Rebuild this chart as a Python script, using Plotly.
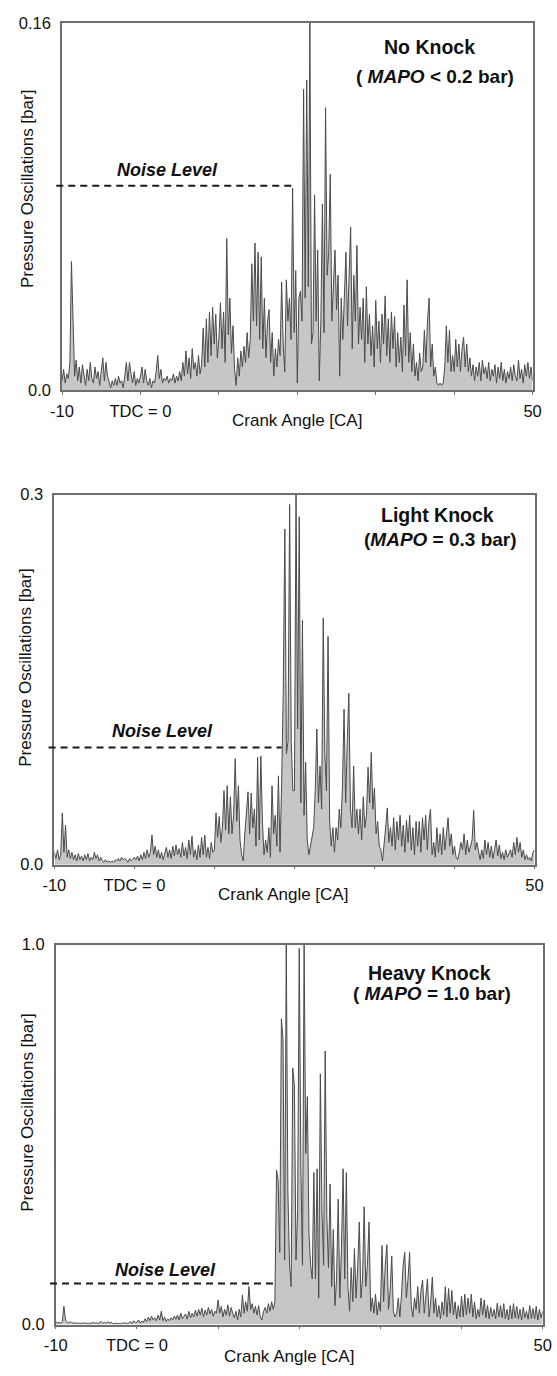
import plotly.graph_objects as go

W, H = 557, 1376

# Crank angle grid (degrees CA), sampled every 0.2 deg from -10 to 50
CA_MIN, CA_MAX, CA_STEP = -10, 50, 0.2

# Band-pass filtered pressure oscillation amplitude [bar], one row per degree CA
no_knock = [
    0.004, 0.009, 0.003, 0.007, 0.005,   # -10
    0.012, 0.056, 0.031, 0.006, 0.013,   # -9
    0.004, 0.010, 0.003, 0.011, 0.006,   # -8
    0.002, 0.009, 0.004, 0.012, 0.005,   # -7
    0.003, 0.010, 0.005, 0.008, 0.002,   # -6
    0.007, 0.014, 0.004, 0.012, 0.006,   # -5
    0.003, 0.001, 0.004, 0.002, 0.005,   # -4
    0.002, 0.006, 0.003, 0.004, 0.001,   # -3
    0.006, 0.012, 0.004, 0.012, 0.007,   # -2
    0.003, 0.008, 0.002, 0.005, 0.003,   # -1
    0.006, 0.010, 0.003, 0.009, 0.004,   # 0
    0.002, 0.005, 0.001, 0.004, 0.003,   # 1
    0.008, 0.015, 0.005, 0.009, 0.003,   # 2
    0.005, 0.004, 0.006, 0.003, 0.005,   # 3
    0.004, 0.007, 0.003, 0.006, 0.004,   # 4
    0.008, 0.004, 0.012, 0.006, 0.017,   # 5
    0.007, 0.014, 0.005, 0.018, 0.009,   # 6
    0.012, 0.006, 0.015, 0.007, 0.011,   # 7
    0.027, 0.010, 0.031, 0.012, 0.034,   # 8
    0.015, 0.036, 0.020, 0.033, 0.014,   # 9
    0.022, 0.038, 0.018, 0.034, 0.012,   # 10
    0.066, 0.024, 0.040, 0.016, 0.028,   # 11
    0.009, 0.002, 0.014, 0.006, 0.017,   # 12
    0.010, 0.019, 0.012, 0.025, 0.014,   # 13
    0.022, 0.055, 0.030, 0.064, 0.028,   # 14
    0.060, 0.022, 0.058, 0.018, 0.040,   # 15
    0.014, 0.030, 0.035, 0.012, 0.025,   # 16
    0.006, 0.018, 0.010, 0.022, 0.015,   # 17
    0.047, 0.020, 0.008, 0.048, 0.030,   # 18
    0.040, 0.022, 0.088, 0.025, 0.052,   # 19
    0.003, 0.040, 0.043, 0.030, 0.131,   # 20
    0.040, 0.135, 0.045, 0.160, 0.020,   # 21
    0.025, 0.085, 0.030, 0.061, 0.004,   # 22
    0.030, 0.081, 0.025, 0.123, 0.050,   # 23
    0.060, 0.094, 0.030, 0.045, 0.061,   # 24
    0.035, 0.050, 0.006, 0.040, 0.022,   # 25
    0.045, 0.060, 0.028, 0.055, 0.071,   # 26
    0.018, 0.050, 0.030, 0.063, 0.020,   # 27
    0.036, 0.022, 0.040, 0.012, 0.045,   # 28
    0.020, 0.033, 0.015, 0.028, 0.010,   # 29
    0.039, 0.018, 0.030, 0.012, 0.033,   # 30
    0.020, 0.041, 0.015, 0.031, 0.012,   # 31
    0.034, 0.018, 0.032, 0.010, 0.025,   # 32
    0.012, 0.023, 0.008, 0.037, 0.015,   # 33
    0.048, 0.012, 0.025, 0.008, 0.020,   # 34
    0.006, 0.012, 0.004, 0.016, 0.008,   # 35
    0.010, 0.026, 0.012, 0.030, 0.040,   # 36
    0.010, 0.020, 0.006, 0.010, 0.003,   # 37
    0.002, 0.003, 0.002, 0.003, 0.010,   # 38
    0.028, 0.012, 0.026, 0.008, 0.015,   # 39
    0.008, 0.022, 0.010, 0.020, 0.008,   # 40
    0.018, 0.023, 0.010, 0.020, 0.008,   # 41
    0.014, 0.006, 0.011, 0.004, 0.010,   # 42
    0.006, 0.012, 0.004, 0.013, 0.007,   # 43
    0.010, 0.005, 0.012, 0.004, 0.009,   # 44
    0.006, 0.011, 0.003, 0.010, 0.005,   # 45
    0.012, 0.004, 0.009, 0.003, 0.008,   # 46
    0.005, 0.010, 0.004, 0.011, 0.006,   # 47
    0.004, 0.013, 0.005, 0.009, 0.003,   # 48
    0.011, 0.006, 0.012, 0.005, 0.010,   # 49
    0.004,                               # 50
]

light_knock = [
    0.010, 0.005, 0.012, 0.004, 0.008,   # -10
    0.042, 0.010, 0.032, 0.006, 0.012,   # -9
    0.005, 0.010, 0.004, 0.008, 0.003,   # -8
    0.009, 0.004, 0.007, 0.003, 0.008,   # -7
    0.004, 0.009, 0.003, 0.006, 0.004,   # -6
    0.010, 0.005, 0.008, 0.003, 0.006,   # -5
    0.003, 0.002, 0.004, 0.002, 0.003,   # -4
    0.002, 0.003, 0.002, 0.004, 0.003,   # -3
    0.005, 0.003, 0.006, 0.004, 0.005,   # -2
    0.004, 0.002, 0.005, 0.003, 0.004,   # -1
    0.006, 0.004, 0.007, 0.003, 0.008,   # 0
    0.004, 0.010, 0.005, 0.012, 0.006,   # 1
    0.010, 0.024, 0.008, 0.015, 0.006,   # 2
    0.012, 0.005, 0.010, 0.004, 0.009,   # 3
    0.014, 0.006, 0.012, 0.005, 0.015,   # 4
    0.007, 0.016, 0.008, 0.013, 0.006,   # 5
    0.018, 0.007, 0.014, 0.005, 0.020,   # 6
    0.008, 0.023, 0.006, 0.012, 0.004,   # 7
    0.016, 0.006, 0.022, 0.008, 0.024,   # 8
    0.006, 0.014, 0.005, 0.018, 0.010,   # 9
    0.012, 0.042, 0.022, 0.039, 0.018,   # 10
    0.030, 0.060, 0.028, 0.064, 0.025,   # 11
    0.055, 0.025, 0.040, 0.086, 0.035,   # 12
    0.064, 0.020, 0.008, 0.003, 0.025,   # 13
    0.045, 0.059, 0.025, 0.058, 0.030,   # 14
    0.045, 0.015, 0.087, 0.020, 0.088,   # 15
    0.035, 0.008, 0.020, 0.010, 0.030,   # 16
    0.006, 0.064, 0.025, 0.040, 0.015,   # 17
    0.072, 0.010, 0.065, 0.139, 0.272,   # 18
    0.090, 0.100, 0.292, 0.100, 0.060,   # 19
    0.060, 0.300, 0.110, 0.282, 0.050,   # 20
    0.198, 0.040, 0.083, 0.020, 0.008,   # 21
    0.015, 0.022, 0.030, 0.060, 0.110,   # 22
    0.050, 0.080, 0.045, 0.200, 0.090,   # 23
    0.060, 0.185, 0.035, 0.015, 0.030,   # 24
    0.010, 0.030, 0.020, 0.045, 0.030,   # 25
    0.063, 0.126, 0.050, 0.100, 0.139,   # 26
    0.045, 0.030, 0.080, 0.030, 0.045,   # 27
    0.025, 0.045, 0.020, 0.055, 0.030,   # 28
    0.040, 0.079, 0.050, 0.091, 0.045,   # 29
    0.062, 0.025, 0.035, 0.015, 0.012,   # 30
    0.003, 0.020, 0.030, 0.046, 0.018,   # 31
    0.030, 0.015, 0.038, 0.012, 0.035,   # 32
    0.020, 0.040, 0.015, 0.032, 0.010,   # 33
    0.036, 0.018, 0.040, 0.012, 0.030,   # 34
    0.008, 0.035, 0.015, 0.035, 0.010,   # 35
    0.038, 0.020, 0.040, 0.012, 0.035,   # 36
    0.045, 0.008, 0.018, 0.006, 0.030,   # 37
    0.010, 0.025, 0.008, 0.030, 0.012,   # 38
    0.028, 0.038, 0.015, 0.025, 0.008,   # 39
    0.015, 0.006, 0.004, 0.010, 0.018,   # 40
    0.012, 0.025, 0.008, 0.020, 0.010,   # 41
    0.015, 0.020, 0.044, 0.012, 0.018,   # 42
    0.010, 0.004, 0.012, 0.005, 0.020,   # 43
    0.008, 0.018, 0.006, 0.015, 0.005,   # 44
    0.012, 0.020, 0.007, 0.016, 0.005,   # 45
    0.010, 0.004, 0.012, 0.006, 0.009,   # 46
    0.012, 0.006, 0.018, 0.008, 0.022,   # 47
    0.010, 0.018, 0.006, 0.012, 0.004,   # 48
    0.008, 0.004, 0.006, 0.003, 0.010,   # 49
    0.012,                               # 50
]

heavy_knock = [
    0.008, 0.004, 0.006, 0.003, 0.007,   # -10
    0.048, 0.012, 0.006, 0.004, 0.008,   # -9
    0.003, 0.006, 0.002, 0.005, 0.003,   # -8
    0.004, 0.002, 0.005, 0.003, 0.004,   # -7
    0.002, 0.004, 0.003, 0.006, 0.003,   # -6
    0.005, 0.002, 0.004, 0.008, 0.003,   # -5
    0.006, 0.003, 0.008, 0.004, 0.006,   # -4
    0.003, 0.002, 0.004, 0.002, 0.003,   # -3
    0.002, 0.004, 0.003, 0.005, 0.002,   # -2
    0.004, 0.008, 0.003, 0.010, 0.005,   # -1
    0.006, 0.012, 0.004, 0.009, 0.006,   # 0
    0.015, 0.008, 0.020, 0.010, 0.022,   # 1
    0.012, 0.018, 0.010, 0.025, 0.012,   # 2
    0.035, 0.010, 0.020, 0.008, 0.015,   # 3
    0.010, 0.018, 0.012, 0.022, 0.014,   # 4
    0.025, 0.012, 0.030, 0.015, 0.022,   # 5
    0.028, 0.014, 0.035, 0.018, 0.030,   # 6
    0.020, 0.038, 0.022, 0.040, 0.025,   # 7
    0.043, 0.020, 0.038, 0.025, 0.045,   # 8
    0.028, 0.040, 0.022, 0.035, 0.030,   # 9
    0.065, 0.030, 0.048, 0.020, 0.040,   # 10
    0.025, 0.052, 0.022, 0.045, 0.030,   # 11
    0.018, 0.035, 0.012, 0.040, 0.020,   # 12
    0.078, 0.030, 0.060, 0.035, 0.100,   # 13
    0.040, 0.055, 0.030, 0.048, 0.025,   # 14
    0.050, 0.020, 0.012, 0.035, 0.045,   # 15
    0.030, 0.055, 0.035, 0.060, 0.040,   # 16
    0.060, 0.407, 0.380, 0.190, 0.805,   # 17
    0.750, 0.170, 1.000, 0.350, 0.160,   # 18
    0.100, 0.675, 0.630, 0.170, 0.300,   # 19
    0.990, 0.415, 0.156, 1.000, 0.450,   # 20
    0.600, 0.240, 0.156, 0.120, 0.400,   # 21
    0.120, 0.410, 0.070, 0.660, 0.300,   # 22
    0.156, 0.720, 0.286, 0.150, 0.370,   # 23
    0.100, 0.250, 0.050, 0.120, 0.330,   # 24
    0.070, 0.200, 0.410, 0.120, 0.400,   # 25
    0.100, 0.035, 0.150, 0.060, 0.200,   # 26
    0.070, 0.150, 0.270, 0.070, 0.120,   # 27
    0.310, 0.100, 0.156, 0.270, 0.035,   # 28
    0.070, 0.030, 0.080, 0.025, 0.060,   # 29
    0.035, 0.208, 0.060, 0.156, 0.210,   # 30
    0.040, 0.090, 0.180, 0.035, 0.020,   # 31
    0.030, 0.070, 0.020, 0.080, 0.156,   # 32
    0.190, 0.070, 0.120, 0.190, 0.050,   # 33
    0.020, 0.070, 0.040, 0.100, 0.030,   # 34
    0.090, 0.117, 0.030, 0.080, 0.120,   # 35
    0.020, 0.060, 0.125, 0.030, 0.070,   # 36
    0.020, 0.050, 0.015, 0.060, 0.025,   # 37
    0.100, 0.020, 0.095, 0.030, 0.090,   # 38
    0.025, 0.060, 0.015, 0.050, 0.020,   # 39
    0.075, 0.020, 0.080, 0.025, 0.070,   # 40
    0.030, 0.080, 0.020, 0.060, 0.015,   # 41
    0.040, 0.020, 0.070, 0.025, 0.065,   # 42
    0.018, 0.050, 0.015, 0.045, 0.020,   # 43
    0.040, 0.015, 0.056, 0.020, 0.050,   # 44
    0.018, 0.055, 0.015, 0.040, 0.012,   # 45
    0.050, 0.015, 0.055, 0.018, 0.048,   # 46
    0.015, 0.040, 0.012, 0.045, 0.018,   # 47
    0.035, 0.014, 0.050, 0.016, 0.042,   # 48
    0.015, 0.048, 0.012, 0.040, 0.018,   # 49
    0.035,                               # 50
]

panel_titles = ["No Knock", "Light Knock", "Heavy Knock"]
panel_mapo = ["( <i>MAPO</i> &lt; 0.2 bar)",
              "(<i>MAPO</i> = 0.3 bar)",
              "( <i>MAPO</i> = 1.0 bar)"]
y_max = [0.16, 0.3, 1.0]
y_tick_text = [["0.0", "0.16"], ["0.0", "0.3"], ["0.0", "1.0"]]
noise_level = [0.089, 0.095, 0.108]      # bar
noise_end_ca = [19.8, 18.4, 17.2]        # deg CA where the noise line stops

x_ticks = [-10, 0, 10, 20, 30, 40, 50]
x_tick_text = ["-10", "TDC = 0", "", "", "", "", "50"]

series = [no_knock, light_knock, heavy_knock]
n_pts = int(round((CA_MAX - CA_MIN) / CA_STEP)) + 1
for s in series:
    assert len(s) == n_pts, len(s)
crank_angle = [round(CA_MIN + i * CA_STEP, 1) for i in range(n_pts)]

# Plot-area boxes in pixels: left, right, top, bottom
boxes = [(52, 541, 14, 386), (44, 543, 492, 867), (45.5, 551.5, 948, 1333)]
# Text anchor points in pixels
title_pos = [(434, 39), (442, 513), (434, 977)]
mapo_pos = [(440, 68), (445, 538), (436, 998)]
noise_txt_pos = [(162, 163), (156, 732), (160, 1278)]
ytitle_pos = [(16, 182), (14, 667), (16, 1118)]
xtitle_pos = [(296, 417), (282, 897), (288, 1365)]

FONT = "Liberation Sans, Arial, sans-serif"
INK = "#111111"
FRAME = "#6e6e6e"


def paper(px, py):
    return px / W, 1 - py / H


fig = go.Figure()
layout = dict(
    width=W, height=H,
    margin=dict(l=0, r=0, t=0, b=0),
    paper_bgcolor="white", plot_bgcolor="white",
    showlegend=False,
    font=dict(family=FONT, color=INK),
    annotations=[], shapes=[],
)

for i, vals in enumerate(series):
    n = "" if i == 0 else str(i + 1)
    l, r, t, b = boxes[i]
    fig.add_trace(go.Scatter(
        x=crank_angle, y=vals, mode="lines",
        line=dict(color="#4a4a4a", width=1),
        fill="tozeroy", fillcolor="#c6c6c6",
        xaxis="x" + n, yaxis="y" + n, hoverinfo="skip",
    ))
    layout["xaxis" + n] = dict(
        domain=[l / W, r / W], anchor="y" + n,
        range=[CA_MIN, CA_MAX], showgrid=False, zeroline=False,
        tickmode="array", tickvals=x_ticks, ticktext=x_tick_text,
        ticks="outside", ticklen=3, tickcolor=FRAME, tickwidth=1,
        ticklabelstandoff=2,
        tickfont=dict(size=16.5, family=FONT, color=INK),
        showline=True, linecolor=FRAME, linewidth=1.5, mirror=True,
    )
    layout["yaxis" + n] = dict(
        domain=[1 - b / H, 1 - t / H], anchor="x" + n,
        range=[0, y_max[i]], showgrid=False, zeroline=False,
        tickmode="array", tickvals=[0, y_max[i]], ticktext=y_tick_text[i],
        ticks="", ticklabelstandoff=6,
        tickfont=dict(size=16.5, family=FONT, color=INK),
        showline=True, linecolor=FRAME, linewidth=1.5, mirror=True,
    )

    # Noise threshold line, starting just left of the frame
    x0_frac = -6.0 / (r - l)
    x1_frac = (noise_end_ca[i] - CA_MIN) / (CA_MAX - CA_MIN)
    y_frac = noise_level[i] / y_max[i]
    layout["shapes"].append(dict(
        type="line", xref="x" + n + " domain", yref="y" + n + " domain",
        x0=x0_frac, x1=x1_frac, y0=y_frac, y1=y_frac,
        line=dict(color="#1a1a1a", width=2, dash="7px,5px"),
    ))

    def ann(text, pos, size, angle=0):
        xp, yp = paper(*pos)
        layout["annotations"].append(dict(
            text=text, x=xp, y=yp, xref="paper", yref="paper",
            xanchor="center", yanchor="middle", showarrow=False,
            textangle=angle, font=dict(size=size, family=FONT, color=INK),
        ))

    ann("<b>" + panel_titles[i] + "</b>", title_pos[i], 19.5)
    ann("<b>" + panel_mapo[i] + "</b>", mapo_pos[i], 19)
    ann("<b><i>Noise Level</i></b>", noise_txt_pos[i], 18)
    ann("Pressure Oscillations [bar]", ytitle_pos[i], 17, angle=-90)
    ann("Crank Angle [CA]", xtitle_pos[i], 17)

fig.update_layout(**layout)
fig.write_html("out.html")
